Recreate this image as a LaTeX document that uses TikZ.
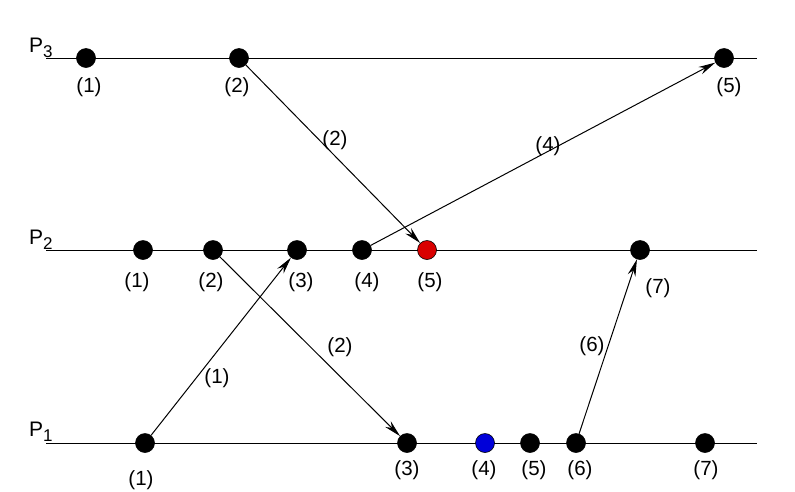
\documentclass[tikz,border=0pt]{standalone}
\usepackage{fontspec}
\setmainfont{Liberation Sans}
\usetikzlibrary{arrows.meta}
\begin{document}
\begin{tikzpicture}[x=1pt,y=-1pt,
  ev/.style={circle,fill=black,draw=black,line width=0.6pt,inner sep=0pt,minimum size=19pt},
  lbl/.style={font=\fontsize{20.5}{22}\selectfont,inner sep=1pt},
  plbl/.style={font=\fontsize{21}{23}\selectfont,inner sep=0pt,anchor=base west},
  tl/.style={line width=1pt},
  msg/.style={line width=1pt,-{Stealth[length=17pt,width=8pt]}}]
\useasboundingbox (0,0) rectangle (795,491);
% process lines
\coordinate (l3a) at (46,58); \coordinate (l3b) at (757,58);
\coordinate (l2a) at (46,250); \coordinate (l2b) at (757,250);
\coordinate (l1a) at (46,443); \coordinate (l1b) at (757,443);
\draw[tl] (l3a) -- (l3b);
\draw[tl] (l2a) -- (l2b);
\draw[tl] (l1a) -- (l1b);
\node[plbl] (p3) at (29,52) {P\raisebox{-5pt}{\fontsize{17}{19}\selectfont 3}};
\node[plbl] (p2) at (29,244) {P\raisebox{-5pt}{\fontsize{17}{19}\selectfont 2}};
\node[plbl] (p1) at (29,436) {P\raisebox{-5pt}{\fontsize{17}{19}\selectfont 1}};
% P3 events
\node[ev] (a1) at (86,58) {};
\node[ev] (a2) at (239,58) {};
\node[ev] (a5) at (724,58) {};
% P2 events
\node[ev] (b1) at (143,250) {};
\node[ev] (b2) at (213,250) {};
\node[ev] (b3) at (297,250) {};
\node[ev] (b4) at (362,250) {};
\node[ev,fill=red!85!black] (b5) at (427,250) {};
\node[ev] (b7) at (640,250) {};
% P1 events
\node[ev] (c1) at (145,443) {};
\node[ev] (c3) at (407,443) {};
\node[ev,fill=blue!85!black] (c4) at (485,443) {};
\node[ev] (c5) at (530,443) {};
\node[ev] (c6) at (576,443) {};
\node[ev] (c7) at (705,443) {};
% event labels
\node[lbl] (ta1) at (89,87) {(1)};
\node[lbl] (ta2) at (237,87) {(2)};
\node[lbl] (ta5) at (729,87) {(5)};
\node[lbl] (tb1) at (137,282) {(1)};
\node[lbl] (tb2) at (211,282) {(2)};
\node[lbl] (tb3) at (301,282) {(3)};
\node[lbl] (tb4) at (367,282) {(4)};
\node[lbl] (tb5) at (430,282) {(5)};
\node[lbl] (tb7) at (658,288) {(7)};
\node[lbl] (tc1) at (141,480) {(1)};
\node[lbl] (tc3) at (407,470) {(3)};
\node[lbl] (tc4) at (484,470) {(4)};
\node[lbl] (tc5) at (534,470) {(5)};
\node[lbl] (tc6) at (580,470) {(6)};
\node[lbl] (tc7) at (706,470) {(7)};
% messages
\draw[msg] (a2) -- (b5);
\draw[msg] (b4) -- (a5);
\draw[msg] (c1) -- (b3);
\draw[msg] (b2) -- (c3);
\draw[msg] (c6) -- (b7);
% message labels
\node[lbl] (m2a) at (335,140) {(2)};
\node[lbl] (m4) at (548,146) {(4)};
\node[lbl] (m1) at (217,378) {(1)};
\node[lbl] (m2b) at (340,347) {(2)};
\node[lbl] (m6) at (592,346) {(6)};
\end{tikzpicture}
\end{document}
